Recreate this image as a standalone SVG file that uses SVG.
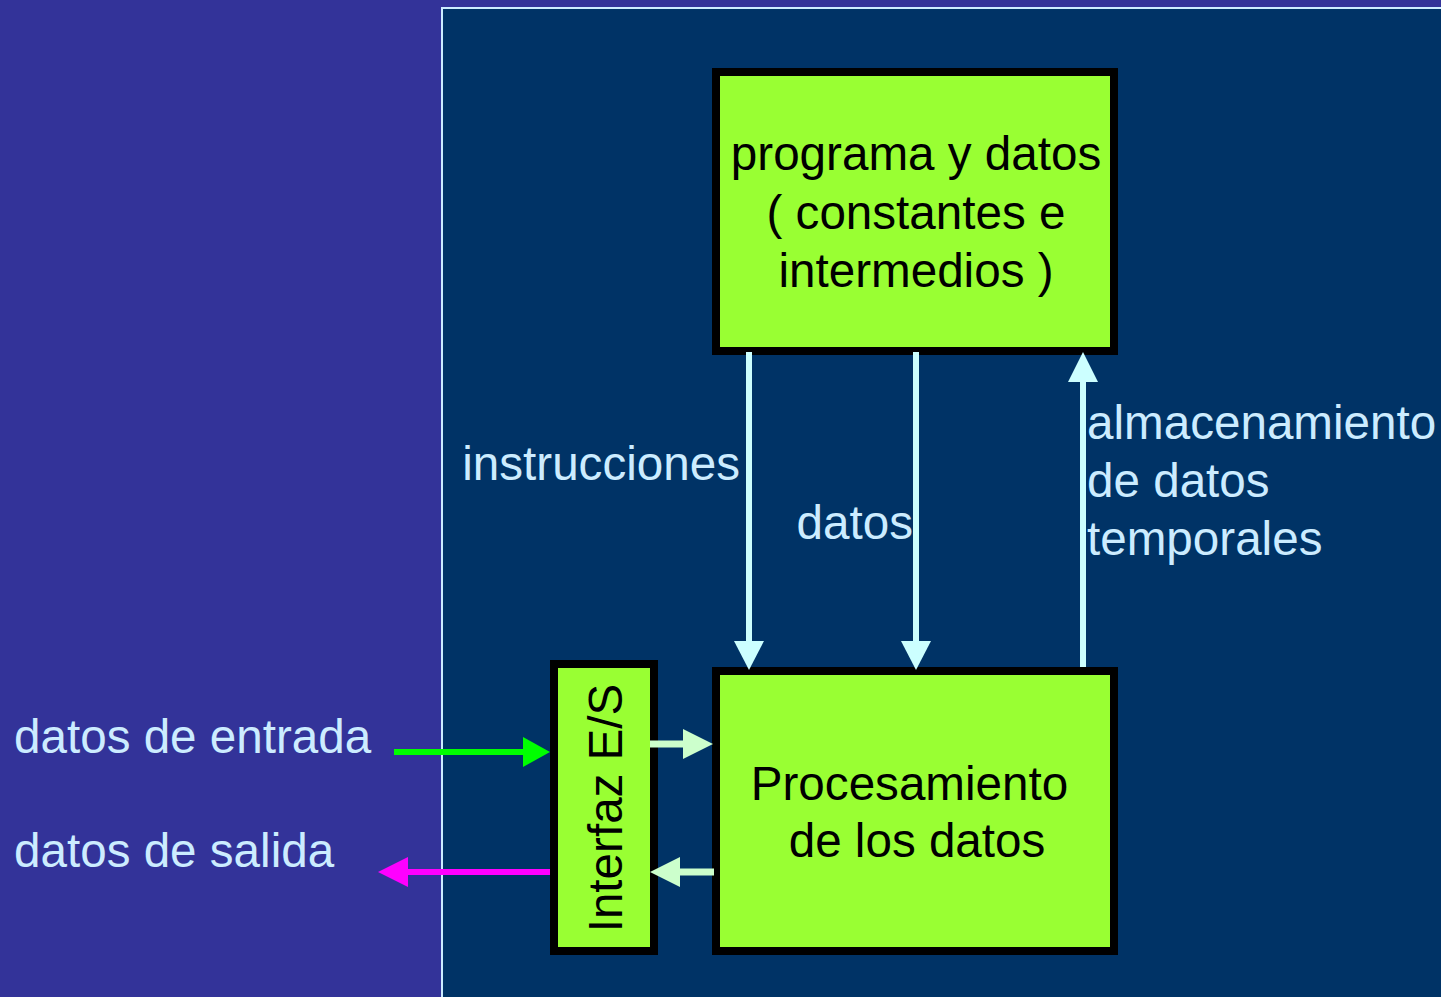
<svg xmlns="http://www.w3.org/2000/svg" width="1441" height="997" viewBox="0 0 1441 997">
<defs>
<style>
.lbl{font-family:"Liberation Sans",Arial,sans-serif;font-size:47.6px;fill:#ccecff}
.box{fill:#99ff33;stroke:#000;stroke-width:8}
.btxt{font-family:"Liberation Sans",Arial,sans-serif;font-size:47.6px;fill:#000;text-anchor:middle}
.v{stroke:#ccffff;stroke-width:6;fill:none}
.h{stroke:#ccffcc;stroke-width:7;fill:none}
</style>
</defs>
<rect x="0" y="0" width="1441" height="997" fill="#333399"/>
<rect x="442" y="8" width="1002" height="992" fill="#003366" stroke="#ccecff" stroke-width="2"/>

<g id="node-programa">
<rect class="box" x="716" y="72" width="398" height="279"/>
<text class="btxt" x="916" y="170">programa y datos</text>
<text class="btxt" x="916" y="229">( constantes e</text>
<text class="btxt" x="916" y="287">intermedios )</text>
</g>

<g id="node-procesamiento">
<rect class="box" x="716" y="671" width="398" height="280"/>
<text class="btxt" x="909.5" y="800">Procesamiento</text>
<text class="btxt" x="917" y="857">de los datos</text>
</g>

<g id="node-interfaz">
<rect class="box" x="554" y="664" width="100" height="287"/>
<text class="btxt" transform="translate(622,808) rotate(-90)" x="0" y="0">Interfaz E/S</text>
</g>

<g id="connectors">
<line class="v" x1="749" y1="352" x2="749" y2="642"/>
<polygon points="734,641 764,641 749,670" fill="#ccffff"/>
<line class="v" x1="916" y1="352" x2="916" y2="642"/>
<polygon points="901,641 931,641 916,670" fill="#ccffff"/>
<line class="v" x1="1083" y1="667" x2="1083" y2="380"/>
<polygon points="1068,382 1098,382 1083,352" fill="#ccffff"/>

<line class="h" x1="650" y1="744" x2="685" y2="744"/>
<polygon points="683,729 683,759 713,744" fill="#ccffcc"/>
<line class="h" x1="714" y1="872" x2="678" y2="872"/>
<polygon points="680,857 680,887 650,872" fill="#ccffcc"/>

<line x1="394" y1="752" x2="525" y2="752" stroke="#00ff00" stroke-width="6"/>
<polygon points="523,737 523,767 550,752" fill="#00ff00"/>
<line x1="550" y1="872" x2="406" y2="872" stroke="#ff00ff" stroke-width="6"/>
<polygon points="408,857 408,887 378,872" fill="#ff00ff"/>
</g>

<g id="labels">
<text class="lbl" x="740" y="480" text-anchor="end">instrucciones</text>
<text class="lbl" x="913" y="539" text-anchor="end">datos</text>
<text class="lbl" x="1087" y="439">almacenamiento</text>
<text class="lbl" x="1087" y="497">de datos</text>
<text class="lbl" x="1087" y="555">temporales</text>
<text class="lbl" x="14" y="753">datos de entrada</text>
<text class="lbl" x="14" y="867">datos de salida</text>
</g>
</svg>
